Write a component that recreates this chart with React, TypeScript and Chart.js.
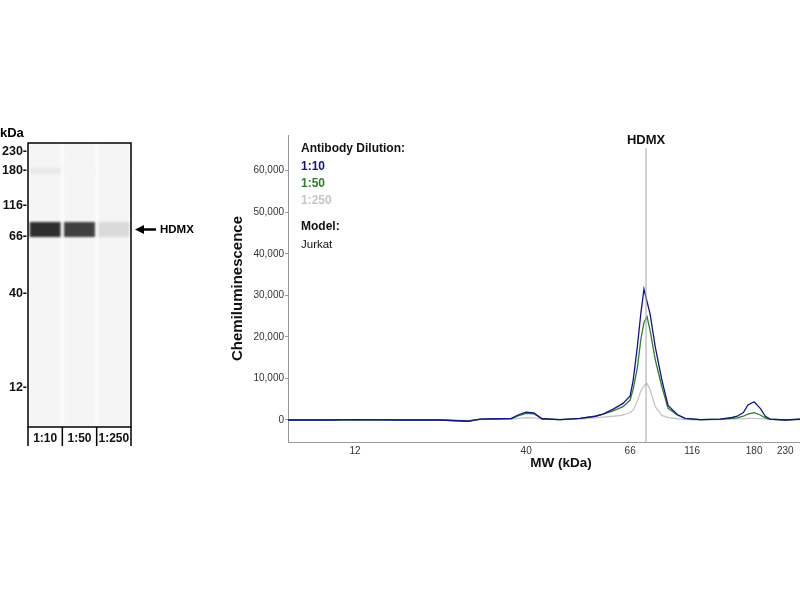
import { useEffect, useRef } from 'react';
import { Chart, registerables } from 'chart.js';

Chart.register(...registerables);

const SANS = "'Liberation Sans', Arial, sans-serif";

// electropherogram: x is relative migration position, y is chemiluminescence
const positions = [0, 8.2, 13.1, 21.9, 29.7, 35.2, 37.5, 41.4, 43.6, 44.9, 46.5, 48.0, 49.6, 53.1, 57.0, 60.0, 61.5, 63.5, 65.4, 66.8, 67.4, 68.2, 68.9, 69.5, 70.1, 70.7, 71.7, 73.0, 74.2, 76.0, 77.5, 80.5, 84.4, 86.7, 87.7, 88.9, 89.8, 91.0, 92.2, 93.2, 94.1, 97.1, 100, 103, 106.6];
const dil10Values = [0, 0, 100, 0, 0, -300, 200, 300, 400, 1200, 1900, 1700, 300, 100, 400, 900, 1400, 2600, 4000, 5800, 9600, 17600, 25800, 31500, 28500, 25500, 17600, 9600, 3500, 1300, 400, 100, 200, 600, 900, 1800, 3600, 4400, 2800, 900, 200, 0, 200, 0, 100];
const dil50Values = [0, 0, 100, 0, 0, -300, 200, 300, 300, 1000, 1600, 1500, 300, 100, 400, 900, 1400, 2200, 3200, 4800, 7500, 12500, 19500, 23500, 24900, 21500, 14500, 8000, 2800, 1200, 400, 100, 200, 400, 500, 900, 1400, 1750, 1200, 500, 200, 0, 200, 0, 100];
const dil250Values = [0, 0, 0, 0, 0, -100, 100, 200, 200, 400, 550, 500, 200, 50, 200, 500, 700, 900, 1200, 1800, 2400, 4500, 7000, 8200, 8800, 7200, 3200, 1100, 600, 300, 100, 0, 100, 200, 250, 300, 400, 400, 350, 200, 100, 0, 100, 0, 0];

const seriesLabels = ['1:10', '1:50', '1:250'];
const seriesColors = ['#14148a', '#2f7d2f', '#c6c6c6'];
const seriesValues = [dil10Values, dil50Values, dil250Values];

const mwTickPositions = [13.1, 46.5, 66.8, 78.9, 91.0, 97.1];
const mwTickLabels = ['12', '40', '66', '116', '180', '230'];
const yTickValues = [0, 10000, 20000, 30000, 40000, 50000, 60000];
const hdmxPosition = 69.9;

// gel image: y is migration distance from the top of the lane
const laneLabels = ['1:10', '1:50', '1:250'];
const markerPositions = [9, 28, 63, 94, 151, 245];
const markerLabels = ['230', '180', '116', '66', '40', '12'];
const hdmxBand = [79, 94];
const hdmxBandColors = ['#2e2e2e', '#404040', '#dadada'];
const faintBand = [25, 31];
const faintBandColors = ['#e9e9e9', '#f5f5f5', '#f6f6f6'];
const gelLength = 284;

const gelPlugin = {
    id: 'gelFrame',
    beforeDatasetsDraw(chart: any) {
        const { ctx, chartArea: a } = chart;
        ctx.save();
        ctx.fillStyle = '#fcfcfc';
        ctx.fillRect(a.left, a.top, a.right - a.left, a.bottom - a.top);
        ctx.filter = 'blur(1.3px)';
    },
    afterDatasetsDraw(chart: any) {
        chart.ctx.restore();
    },
    afterDraw(chart: any) {
        const { ctx, chartArea: a, scales } = chart;
        ctx.save();
        ctx.strokeStyle = '#000';
        ctx.lineWidth = 1.5;
        ctx.strokeRect(a.left, a.top, a.right - a.left, a.bottom - a.top);
        // lane separators under the gel
        const laneW = (a.right - a.left) / laneLabels.length;
        for (let k = 0; k <= laneLabels.length; k++) {
            const x = a.left + k * laneW;
            ctx.beginPath();
            ctx.moveTo(x, a.bottom);
            ctx.lineTo(x, a.bottom + 19);
            ctx.stroke();
        }
        // arrow to the band
        const y = scales.y.getPixelForValue((hdmxBand[0] + hdmxBand[1]) / 2);
        const ax = a.right + 4;
        ctx.fillStyle = '#000';
        ctx.beginPath();
        ctx.moveTo(ax, y);
        ctx.lineTo(ax + 9, y - 4.5);
        ctx.lineTo(ax + 9, y + 4.5);
        ctx.closePath();
        ctx.fill();
        ctx.lineWidth = 2.5;
        ctx.beginPath();
        ctx.moveTo(ax + 8, y);
        ctx.lineTo(ax + 21, y);
        ctx.stroke();
        ctx.font = `bold 11.5px ${SANS}`;
        ctx.textBaseline = 'middle';
        ctx.fillText('HDMX', ax + 25, y + 0.5);
        ctx.font = `bold 13px ${SANS}`;
        ctx.fillText('kDa', 0, a.top - 10);
        ctx.restore();
    },
};

const annotPlugin = {
    id: 'hdmxAnnot',
    afterDatasetsDraw(chart: any) {
        const { ctx, chartArea: a, scales } = chart;
        const px = scales.x.getPixelForValue(hdmxPosition);
        ctx.save();
        ctx.strokeStyle = '#a6a6a6';
        ctx.lineWidth = 1;
        ctx.beginPath();
        ctx.moveTo(px, a.top + 13);
        ctx.lineTo(px, a.bottom);
        ctx.stroke();
        ctx.fillStyle = '#111';
        ctx.font = `bold 13px ${SANS}`;
        ctx.textAlign = 'center';
        ctx.textBaseline = 'middle';
        ctx.fillText('HDMX', px, a.top + 5);

        ctx.textAlign = 'left';
        const lx = a.left + 13;
        ctx.font = `bold 12px ${SANS}`;
        ctx.fillText('Antibody Dilution:', lx, a.top + 14);
        seriesLabels.forEach((label, i) => {
            ctx.fillStyle = seriesColors[i];
            ctx.fillText(label, lx, a.top + 32 + i * 17);
        });
        ctx.fillStyle = '#111';
        ctx.fillText('Model:', lx, a.top + 92);
        ctx.font = `11.5px ${SANS}`;
        ctx.fillText('Jurkat', lx, a.top + 110);
        ctx.restore();
    },
};

function GelImage() {
    const canvasRef = useRef<HTMLCanvasElement | null>(null);

    useEffect(() => {
        if (!canvasRef.current) return;
        const chart = new Chart(canvasRef.current, {
            type: 'bar',
            data: {
                labels: laneLabels,
                datasets: [
                    {
                        data: laneLabels.map(() => hdmxBand),
                        backgroundColor: hdmxBandColors,
                        grouped: false,
                        barPercentage: 0.9,
                        categoryPercentage: 1,
                        borderWidth: 0,
                    },
                    {
                        data: laneLabels.map(() => faintBand),
                        backgroundColor: faintBandColors,
                        grouped: false,
                        barPercentage: 0.9,
                        categoryPercentage: 1,
                        borderWidth: 0,
                    },
                    {
                        data: laneLabels.map(() => [0, gelLength]),
                        backgroundColor: '#f5f5f5',
                        grouped: false,
                        barPercentage: 0.9,
                        categoryPercentage: 1,
                        borderWidth: 0,
                        order: 5,
                    },
                ] as any,
            },
            options: {
                responsive: false,
                animation: false,
                events: [],
                layout: { padding: { top: 23, right: 69, left: 0, bottom: 0 } },
                plugins: { legend: { display: false }, tooltip: { enabled: false } },
                scales: {
                    x: {
                        grid: { display: false, drawTicks: false },
                        border: { display: false },
                        afterFit: (s: any) => { s.height = 20; },
                        ticks: {
                            padding: 4,
                            color: '#111',
                            autoSkip: false,
                            maxRotation: 0,
                            minRotation: 0,
                            font: { family: SANS, size: 12, weight: 'bold' },
                        },
                    },
                    y: {
                        min: 0,
                        max: gelLength,
                        reverse: true,
                        grid: { display: false, drawTicks: false },
                        border: { display: false },
                        afterFit: (s: any) => { s.width = 28; },
                        afterBuildTicks: (s: any) => {
                            s.ticks = markerPositions.map(v => ({ value: v }));
                        },
                        ticks: {
                            padding: 1,
                            color: '#111',
                            font: { family: SANS, size: 12.5, weight: 'bold' },
                            callback: (v: any) => {
                                const i = markerPositions.indexOf(Number(v));
                                return i >= 0 ? markerLabels[i] + '-' : '';
                            },
                        },
                    },
                },
            },
            plugins: [gelPlugin],
        });
        return () => chart.destroy();
    }, []);

    return (
        <canvas
            ref={canvasRef}
            width={200}
            height={327}
            style={{ position: 'absolute', left: 0, top: 120, width: 200, height: 327 }}
        />
    );
}

function Electropherogram() {
    const canvasRef = useRef<HTMLCanvasElement | null>(null);

    useEffect(() => {
        if (!canvasRef.current) return;
        const chart = new Chart(canvasRef.current, {
            type: 'line',
            data: {
                datasets: seriesLabels.map((label, i) => ({
                    label,
                    data: positions.map((x, j) => ({ x, y: seriesValues[i][j] })),
                    borderColor: seriesColors[i],
                    borderWidth: 1.3,
                    pointRadius: 0,
                    tension: 0,
                    fill: false,
                })),
            },
            options: {
                responsive: false,
                animation: false,
                events: [],
                layout: { padding: { top: 15, right: 2, left: 0, bottom: 0 } },
                plugins: { legend: { display: false }, tooltip: { enabled: false } },
                scales: {
                    x: {
                        type: 'linear',
                        min: 0,
                        max: 106.6,
                        grid: { display: false, drawTicks: false },
                        border: { color: '#999', width: 1 },
                        afterFit: (s: any) => { s.height = 38; },
                        afterBuildTicks: (s: any) => {
                            s.ticks = mwTickPositions.map(v => ({ value: v }));
                        },
                        ticks: {
                            padding: 3,
                            color: '#333',
                            autoSkip: false,
                            maxRotation: 0,
                            font: { family: SANS, size: 10 },
                            callback: (v: any) => {
                                const i = mwTickPositions.indexOf(Number(v));
                                return i >= 0 ? mwTickLabels[i] : '';
                            },
                        },
                        title: {
                            display: true,
                            text: 'MW (kDa)',
                            color: '#111',
                            padding: { top: 0, bottom: 9 },
                            font: { family: SANS, size: 13.5, weight: 'bold' },
                        },
                    },
                    y: {
                        min: -5300,
                        max: 68600,
                        grid: { drawOnChartArea: false, drawTicks: true, tickLength: 3, color: '#999' },
                        border: { color: '#999', width: 1 },
                        afterFit: (s: any) => { s.width = 68; },
                        afterBuildTicks: (s: any) => {
                            s.ticks = yTickValues.map(v => ({ value: v }));
                        },
                        ticks: {
                            padding: 1,
                            color: '#333',
                            font: { family: SANS, size: 10 },
                            callback: (v: any) => Number(v).toLocaleString('en-US'),
                        },
                        title: {
                            display: true,
                            text: 'Chemiluminescence',
                            color: '#111',
                            padding: { top: 9, bottom: 0 },
                            font: { family: SANS, size: 15, weight: 'bold' },
                        },
                    },
                },
            },
            plugins: [annotPlugin],
        });
        return () => chart.destroy();
    }, []);

    return (
        <canvas
            ref={canvasRef}
            width={616}
            height={360}
            style={{ position: 'absolute', left: 220, top: 120, width: 616, height: 360 }}
        />
    );
}

export default function App() {
    return (
        <div style={{ position: 'fixed', left: 0, top: 0, width: 800, height: 600, overflow: 'hidden', background: '#fff' }}>
            <GelImage />
            <Electropherogram />
        </div>
    );
}
